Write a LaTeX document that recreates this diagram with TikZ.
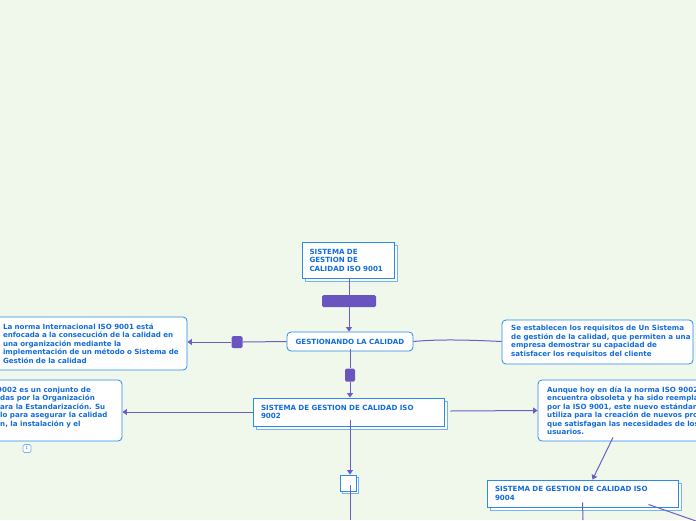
\documentclass[tikz,border=0pt]{standalone}
\usepackage{fontspec}
\setmainfont{DejaVu Sans}
\usetikzlibrary{arrows.meta,shadows,positioning}
\definecolor{bg}{RGB}{240,248,236}
\definecolor{txtblue}{RGB}{18,108,222}
\definecolor{boxblue}{RGB}{40,140,232}
\definecolor{shblue}{RGB}{120,178,240}
\definecolor{purp}{RGB}{106,84,192}
\definecolor{conncol}{RGB}{112,92,200}
\tikzset{
  lbl/.style={font=\bfseries\fontsize{7.1}{8.5}\selectfont, text=txtblue, align=left},
  topicbox/.style={lbl, draw=boxblue, fill=white, line width=0.9pt, inner sep=0pt,
    copy shadow={shadow xshift=3pt, shadow yshift=-3pt, draw=shblue, fill=white, line width=0.9pt}},
  rbox/.style={lbl, draw=boxblue, fill=white, line width=0.8pt, rounded corners=4pt, inner sep=0pt},
  psq/.style={fill=purp, rounded corners=1.5pt, inner sep=0pt},
  conn/.style={draw=conncol, line width=1pt},
  arr/.style={conn, -{Triangle[width=6pt,length=4.5pt]}},
}
\begin{document}
\begin{tikzpicture}[x=1pt,y=-1pt]
\fill[bg] (0,0) rectangle (696,520);
\useasboundingbox (0,0) rectangle (696,520);

% top topic
\node[topicbox, minimum width=92pt, minimum height=36pt, text width=77pt] (n9001) at (348,260)
  {SISTEMA DE\\GESTION DE\\CALIDAD ISO 9001};
\node[psq, minimum width=54pt, minimum height=12pt] (bar) at (349,301) {};
\node[rbox, minimum width=126pt, minimum height=19pt, align=center] (gest) at (350,341.5)
  {GESTIONANDO LA CALIDAD};

% left 1
\node[rbox, minimum width=192pt, minimum height=53pt, text width=176pt] (left1) at (91,343.5)
  {La norma Internacional ISO 9001 está\\enfocada a la consecución de la calidad en\\una organización mediante la\\implementación de un método o Sistema de\\Gestión de la calidad};
\node[psq, minimum width=11pt, minimum height=12pt] (sq1) at (237,342) {};

% right 1
\node[rbox, minimum width=191pt, minimum height=44pt] (right1) at (597.5,342) {};
\node[lbl, anchor=north west, inner sep=0pt] (right1t) at (511,325)
  {Se establecen los requisitos de Un Sistema\\de gestión de la calidad, que permiten a una\\empresa demostrar su capacidad de\\satisfacer los requisitos del cliente};

% ISO 9002
\node[psq, minimum width=10pt, minimum height=13pt] (sq2) at (350,375) {};
\node[topicbox, minimum width=191pt, minimum height=28pt, text width=175pt] (n9002) at (348.5,412)
  {SISTEMA DE GESTION DE CALIDAD ISO\\9002};

% left 2
\node[rbox, minimum width=127pt, minimum height=61pt] (left2) at (58.5,410.5) {};
\node[lbl, anchor=north west, inner sep=0pt] (left2t) at (-3,386.5)
  {9002 es un conjunto de\\\hspace*{3pt}das por la Organización\\\hspace*{3pt}ara la Estandarización. Su\\\hspace*{3pt}lo para asegurar la calidad\\\hspace*{3pt}n, la instalación y el};
\node[draw=shblue, fill=white, rounded corners=1.5pt, line width=0.7pt, minimum width=8pt, minimum height=8pt, inner sep=0pt,
  font=\fontsize{4}{4}\selectfont, text=txtblue] (icon) at (27,448.5) {1};

% right 2
\node[rbox, minimum width=162pt, minimum height=61pt] (right2) at (619,410.5) {};
\node[lbl, anchor=north west, inner sep=0pt] (right2t) at (547,386.5)
  {Aunque hoy en día la norma ISO 9002\\encuentra obsoleta y ha sido reemplaz\\por la ISO 9001, este nuevo estándar\\utiliza para la creación de nuevos prod\\que satisfagan las necesidades de los\\usuarios.};

% ISO 9004
\node[topicbox, minimum width=191pt, minimum height=27pt, text width=175pt] (n9004) at (582.5,493.5)
  {SISTEMA DE GESTION DE CALIDAD ISO\\9004};

% small box
\node[draw=boxblue, fill=white, line width=0.9pt, minimum width=16pt, minimum height=16pt, inner sep=0pt,
  copy shadow={shadow xshift=2.5pt, shadow yshift=-2.5pt, draw=shblue, fill=white, line width=0.9pt}] (small) at (348,483) {};

% free ends
\coordinate (endA) at (350,520);
\coordinate (endB) at (583,520);
\coordinate (endC) at (696,521);

% connectors
\draw[conn] (bar.north |- n9001.south) -- (bar.north);
\draw[arr] (bar.south) -- (bar.south |- gest.north);
\draw[conn] (gest.west) -- (sq1.east);
\draw[arr] (sq1.west) -- (left1.east |- sq1.west);
\draw[conn] (gest.east) .. controls (440,339) and (470,340) .. (right1.west |- gest.east);
\draw[conn] ([yshift=2pt]gest.south) -- (sq2.north);
\draw[arr] (sq2.south) -- (sq2.south |- n9002.north);
\draw[arr] (n9002.west) -- (left2.east |- n9002.west);
\draw[arr] ([xshift=6pt,yshift=1pt]n9002.east) -- (right2.west);
\draw[arr] ([xshift=-6pt,yshift=4pt]right2.south) -- ([xshift=10pt]n9004.north);
\draw[arr] ([xshift=1.5pt,yshift=6pt]n9002.south) -- ([xshift=2pt]small.north);
\draw[conn] ([xshift=2pt,yshift=6pt]small.south) -- (endA);
\draw[conn] ([yshift=5pt]n9004.south) -- (endB);
\draw[conn] ([xshift=-30pt,yshift=3pt]n9004.south east) -- (endC);
\end{tikzpicture}
\end{document}
